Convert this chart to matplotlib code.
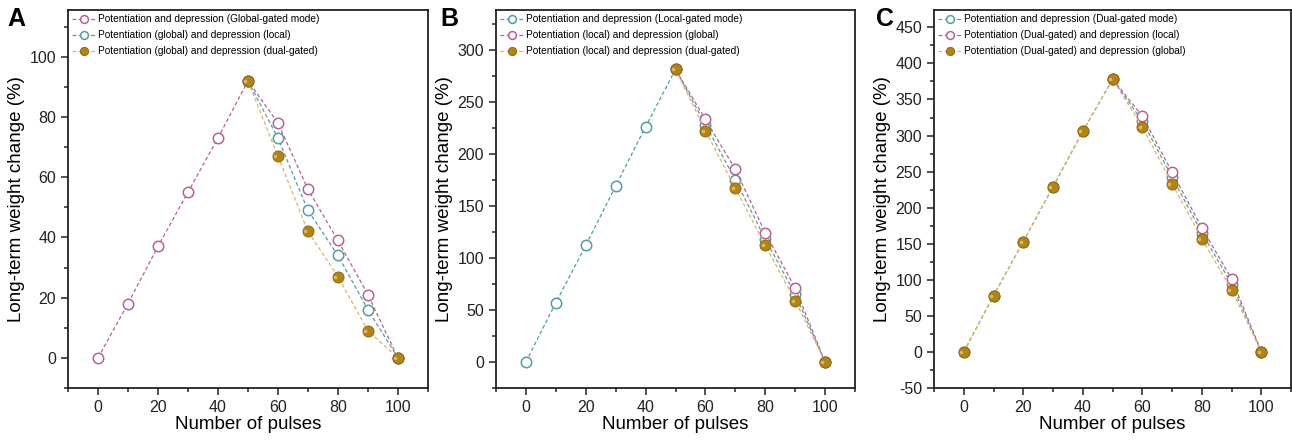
import matplotlib.pyplot as plt
from matplotlib.ticker import MultipleLocator

plt.rcParams['font.family'] = ['Liberation Sans', 'DejaVu Sans']
plt.rcParams['axes.unicode_minus'] = False

PINK = '#b8609a'
TEAL = '#4f9fa3'
GOLD = '#b38412'
GOLD_EDGE = '#8a6408'
GOLD_LINE = '#e2b263'

pulses = [0, 10, 20, 30, 40, 50, 60, 70, 80, 90, 100]
dep_pulses = [50, 60, 70, 80, 90, 100]

# panel A: global-gated potentiation
a_global = [0, 18, 37, 55, 73, 92, 78, 56, 39, 21, 0]
a_dep_local = [92, 73, 49, 34, 16, 0]
a_dep_dual = [92, 67, 42, 27, 9, 0]

# panel B: local-gated potentiation
b_local = [0, 57, 112, 169, 226, 281, 228, 175, 118, 65, 0]
b_dep_global = [281, 233, 185, 124, 71, 0]
b_dep_dual = [281, 222, 167, 112, 59, 0]

# panel C: dual-gated potentiation
c_dual = [0, 78, 153, 229, 306, 378, 320, 242, 165, 94, 0]
c_dep_local = [378, 327, 249, 172, 101, 0]
c_dep_global = [0, 78, 153, 229, 306, 378, 312, 233, 157, 86, 0]

labels_a = ['Potentiation and depression (Global-gated mode)',
            'Potentiation (global) and depression (local)',
            'Potentiation (global) and depression (dual-gated)']
labels_b = ['Potentiation and depression (Local-gated mode)',
            'Potentiation (local) and depression (global)',
            'Potentiation (local) and depression (dual-gated)']
labels_c = ['Potentiation and depression (Dual-gated mode)',
            'Potentiation (Dual-gated) and depression (local)',
            'Potentiation (Dual-gated) and depression (global)']


def open_series(ax, x, y, color, label):
    ax.plot(x, y, linestyle=(0, (3, 2)), lw=0.9, color=color,
            marker='o', ms=7.5, mfc='white', mec=color, mew=1.1, label=label)


def gold_series(ax, x, y, label):
    ax.plot(x, y, linestyle=(0, (3, 2)), lw=0.9, color=GOLD_LINE,
            marker='o', ms=8, mfc=GOLD, mec=GOLD_EDGE, mew=0.6, label=label)
    # small highlight to give the balls some shading
    ax.plot([v - 0.9 for v in x], y, linestyle='none', marker='o', ms=2.5,
            mfc='#e9c978', mec='none', alpha=0.8)


def style_axes(ax, ylim, major, minor):
    ax.set_xlim(-10, 110)
    ax.set_ylim(*ylim)
    ax.xaxis.set_major_locator(MultipleLocator(20))
    ax.xaxis.set_minor_locator(MultipleLocator(10))
    ax.yaxis.set_major_locator(MultipleLocator(major))
    ax.yaxis.set_minor_locator(MultipleLocator(minor))
    ax.tick_params(which='both', direction='out', top=False, right=False,
                   labelsize=11.5, colors='#222222')
    ax.tick_params(which='major', length=5, width=1.1)
    ax.tick_params(which='minor', length=3, width=1.1)
    for s in ax.spines.values():
        s.set_linewidth(1.3)
        s.set_color('#222222')
    ax.set_xlabel('Number of pulses', fontsize=13.5, labelpad=1)
    ax.set_ylabel('Long-term weight change (%)', fontsize=13.5, labelpad=3)
    ax.legend(loc='upper left', frameon=False, fontsize=7.3, markerscale=0.75,
              handlelength=2.3, handletextpad=0.3, labelspacing=0.6,
              borderaxespad=0.2, borderpad=0.2)


fig = plt.figure(figsize=(12.92, 4.41), dpi=100)
ax_a = fig.add_axes([0.0526, 0.1202, 0.2786, 0.857])
ax_b = fig.add_axes([0.3839, 0.1202, 0.2779, 0.857])
ax_c = fig.add_axes([0.7229, 0.1202, 0.2765, 0.857])

open_series(ax_a, pulses, a_global, PINK, labels_a[0])
open_series(ax_a, dep_pulses, a_dep_local, TEAL, labels_a[1])
gold_series(ax_a, dep_pulses, a_dep_dual, labels_a[2])
style_axes(ax_a, (-10, 115.5), 20, 10)

open_series(ax_b, pulses, b_local, TEAL, labels_b[0])
open_series(ax_b, dep_pulses, b_dep_global, PINK, labels_b[1])
gold_series(ax_b, dep_pulses, b_dep_dual, labels_b[2])
style_axes(ax_b, (-25, 338), 50, 25)

open_series(ax_c, pulses, c_dual, TEAL, labels_c[0])
open_series(ax_c, dep_pulses, c_dep_local, PINK, labels_c[1])
gold_series(ax_c, pulses, c_dep_global, labels_c[2])
style_axes(ax_c, (-50, 474), 50, 25)

for x, letter in [(0.006, 'A'), (0.341, 'B'), (0.678, 'C')]:
    fig.text(x, 0.985, letter, fontsize=18, fontweight='bold', va='top')

fig.savefig('out.png', dpi=100)
